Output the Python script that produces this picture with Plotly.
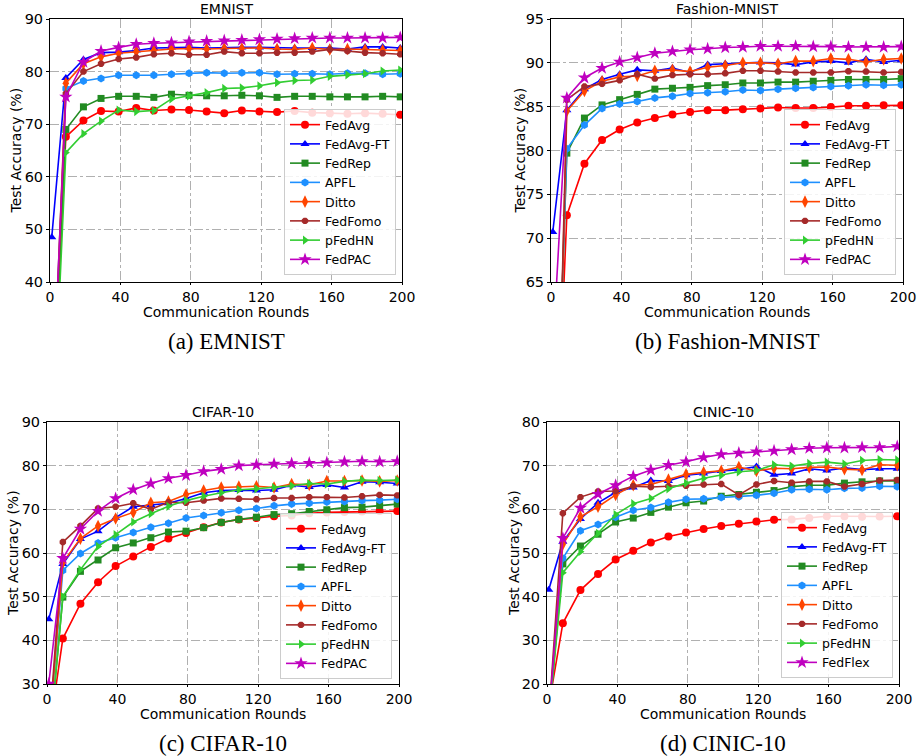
import plotly.graph_objects as go

rounds = [1, 9, 19, 29, 39, 49, 59, 69, 79, 89, 99, 109, 119, 129, 139, 149, 159, 169, 179, 189, 199]
x_ticks = [0, 40, 80, 120, 160, 200]

methods = ["FedAvg", "FedAvg-FT", "FedRep", "APFL", "Ditto", "FedFomo", "pFedHN", "FedPAC"]
methods_cinic = ["FedAvg", "FedAvg-FT", "FedRep", "APFL", "Ditto", "FedFomo", "pFedHN", "FedFlex"]

# ---------------- EMNIST ----------------
emnist_fedavg = [10, 67.6, 70.7, 72.5, 72.4, 73.1, 72.6, 72.8, 72.7, 72.4, 72.1, 72.6, 72.4, 72.3, 72.5, 72.2, 72.1, 72.0, 72.1, 72.0, 71.8]
emnist_fedavgft = [48.5, 78.8, 82.3, 83.6, 83.7, 84.0, 84.5, 84.6, 84.6, 84.5, 84.6, 84.6, 84.6, 84.5, 84.5, 84.5, 84.5, 84.3, 84.7, 84.7, 84.5]
emnist_fedrep = [10, 69.0, 73.3, 74.9, 75.3, 75.3, 75.1, 75.7, 75.5, 75.4, 75.4, 75.5, 75.4, 75.1, 75.3, 75.3, 75.2, 75.2, 75.2, 75.3, 75.2]
emnist_apfl = [12, 76.8, 78.2, 78.7, 79.3, 79.3, 79.3, 79.5, 79.7, 79.8, 79.7, 79.8, 79.8, 79.5, 79.6, 79.6, 79.5, 79.7, 79.7, 79.5, 79.6]
emnist_ditto = [11, 77.8, 81.5, 82.8, 83.5, 83.8, 84.0, 84.3, 84.4, 84.3, 84.4, 84.4, 84.5, 84.3, 84.2, 84.5, 84.2, 84.3, 84.2, 84.1, 84.0]
emnist_fedfomo = [10, 75.8, 80.0, 81.5, 82.4, 82.7, 83.3, 83.5, 83.2, 83.2, 83.8, 83.5, 83.5, 83.6, 83.6, 83.8, 84.2, 83.9, 83.6, 83.5, 83.3]
emnist_pfedhn = [5, 64.6, 68.2, 70.6, 72.7, 72.4, 72.6, 74.8, 75.4, 76.0, 76.8, 76.9, 77.3, 77.9, 78.3, 78.4, 79.1, 79.4, 79.6, 80.1, 80.3]
emnist_fedpac = [14, 75.2, 81.8, 83.9, 84.6, 85.2, 85.4, 85.5, 85.7, 85.8, 85.9, 86.0, 86.1, 86.2, 86.3, 86.4, 86.4, 86.4, 86.4, 86.4, 86.5]

# ---------------- Fashion-MNIST ----------------
fm_fedavg = [35, 72.6, 78.5, 81.2, 82.4, 83.2, 83.7, 84.1, 84.4, 84.6, 84.6, 84.7, 84.8, 84.9, 84.85, 84.85, 84.95, 85.1, 85.1, 85.15, 85.15]
fm_fedavgft = [70.7, 84.6, 87.0, 88.1, 88.7, 89.2, 89.1, 89.4, 88.9, 89.8, 89.9, 90.0, 90.05, 90.0, 89.8, 90.1, 90.2, 90.0, 90.4, 90.1, 90.3]
fm_fedrep = [32, 79.7, 83.7, 85.2, 85.8, 86.4, 87.0, 87.1, 87.2, 87.4, 87.5, 87.7, 87.7, 87.8, 87.8, 87.9, 88.0, 88.1, 88.1, 88.1, 88.2]
fm_apfl = [32, 80.2, 82.9, 84.8, 85.3, 85.6, 86.0, 86.2, 86.5, 86.6, 86.7, 86.9, 86.85, 87.0, 87.1, 87.2, 87.3, 87.4, 87.5, 87.45, 87.5]
fm_ditto = [22, 84.5, 86.8, 87.9, 88.4, 88.5, 89.1, 89.2, 89.0, 89.5, 89.7, 90.0, 90.0, 89.9, 90.2, 90.2, 90.5, 90.4, 90.1, 90.4, 90.5]
fm_fedfomo = [22, 85.8, 87.3, 87.6, 88.0, 88.7, 88.2, 88.6, 88.7, 88.7, 88.8, 89.1, 89.1, 89.0, 88.9, 88.9, 88.9, 89.05, 89.0, 88.9, 88.95]
fm_pfedhn = [None]  # no visible curve in the reference panel (legend entry only)
fm_fedpac = [57, 86.0, 88.3, 89.4, 90.1, 90.6, 91.1, 91.3, 91.5, 91.6, 91.75, 91.8, 91.9, 91.9, 91.9, 91.85, 91.85, 91.8, 91.8, 91.8, 91.85]

# ---------------- CIFAR-10 ----------------
c10_fedavg = [18, 40.4, 48.4, 53.3, 57.0, 59.2, 61.4, 63.3, 64.6, 65.9, 67.0, 67.7, 68.0, 68.4, 68.6, 69.1, 69.3, 69.4, 69.5, 69.6, 69.6]
c10_fedavgft = [44.8, 57.5, 63.2, 65.0, 68.1, 70.6, 71.0, 71.4, 72.5, 73.8, 74.3, 74.4, 74.3, 74.5, 75.5, 75.1, 75.6, 75.0, 76.3, 76.2, 75.9]
c10_fedrep = [15, 49.9, 55.8, 58.4, 61.2, 62.3, 63.5, 64.8, 65.0, 65.8, 67.0, 67.7, 68.2, 68.8, 69.0, 69.5, 69.9, 70.4, 70.5, 70.9, 71.2]
c10_apfl = [18, 56.0, 59.9, 62.3, 63.5, 64.7, 65.9, 66.8, 68.0, 68.6, 69.2, 69.8, 70.2, 70.8, 71.2, 71.4, 71.7, 71.8, 72.0, 72.1, 72.3]
c10_ditto = [18, 57.8, 63.3, 66.2, 67.9, 69.3, 71.5, 71.8, 73.4, 74.3, 75.0, 75.2, 75.3, 75.0, 75.8, 75.6, 76.5, 76.5, 76.6, 76.4, 76.6]
c10_fedfomo = [18, 62.5, 66.2, 70.2, 70.6, 71.4, 70.0, 71.6, 71.5, 72.0, 72.5, 72.4, 72.3, 72.6, 72.6, 72.8, 72.8, 72.7, 73.0, 73.3, 73.2]
c10_pfedhn = [15, 50.0, 56.2, 61.5, 64.2, 67.1, 69.0, 70.7, 72.0, 73.0, 73.8, 74.5, 74.7, 75.0, 75.4, 75.9, 75.8, 76.4, 76.7, 76.6, 76.7]
c10_fedpac = [30.0, 58.8, 65.5, 69.6, 72.5, 74.5, 75.9, 77.1, 77.8, 78.7, 79.2, 80.0, 80.2, 80.4, 80.5, 80.6, 80.7, 80.9, 81.0, 80.9, 81.0]

# ---------------- CINIC-10 ----------------
cn_fedavg = [15, 33.9, 41.5, 45.2, 48.5, 50.5, 52.4, 53.8, 54.7, 55.5, 56.2, 56.7, 57.2, 57.6, 57.7, 58.0, 58.4, 58.4, 58.3, 58.35, 58.4]
cn_fedavgft = [41.6, 52.6, 57.8, 61.5, 63.9, 65.0, 66.6, 66.5, 67.8, 68.2, 68.8, 69.1, 69.8, 67.9, 68.2, 69.3, 68.9, 69.5, 69.1, 69.3, 69.3]
cn_fedrep = [12, 47.5, 51.6, 54.3, 57.1, 58.0, 59.3, 60.5, 61.5, 61.9, 63.0, 63.4, 63.9, 64.3, 65.2, 65.5, 65.5, 66.0, 66.3, 66.5, 66.5]
cn_apfl = [12, 48.8, 55.1, 56.5, 58.2, 59.8, 60.4, 61.6, 62.3, 62.4, 62.7, 62.9, 63.2, 63.7, 64.5, 64.6, 64.5, 64.8, 64.9, 65.3, 65.2]
cn_ditto = [12, 52.0, 58.3, 60.6, 63.3, 65.5, 65.7, 66.8, 68.0, 68.5, 68.8, 69.7, 68.8, 69.4, 69.3, 69.6, 69.7, 69.2, 69.0, 70.2, 70.1]
cn_fedfomo = [12, 59.1, 62.8, 64.1, 64.2, 65.3, 65.1, 65.3, 65.4, 65.7, 65.8, 63.3, 65.7, 66.5, 66.1, 66.4, 66.4, 65.2, 65.8, 66.6, 66.7]
cn_pfedhn = [12, 45.5, 50.3, 54.5, 58.8, 61.3, 62.5, 64.7, 66.0, 67.1, 67.8, 68.6, 68.9, 70.2, 69.9, 70.5, 70.8, 70.4, 71.2, 71.4, 71.3]
cn_fedflex = [12, 53.4, 60.3, 63.5, 65.5, 67.6, 69.0, 70.1, 70.9, 71.9, 72.6, 72.9, 73.2, 73.4, 73.7, 74.0, 74.1, 74.1, 74.2, 74.2, 74.4]

panels = [
    dict(title="EMNIST", caption="(a) EMNIST", names=methods,
         series=[emnist_fedavg, emnist_fedavgft, emnist_fedrep, emnist_apfl, emnist_ditto, emnist_fedfomo, emnist_pfedhn, emnist_fedpac],
         yrange=[40, 90], ytick=10),
    dict(title="Fashion-MNIST", caption="(b) Fashion-MNIST", names=methods,
         series=[fm_fedavg, fm_fedavgft, fm_fedrep, fm_apfl, fm_ditto, fm_fedfomo, fm_pfedhn, fm_fedpac],
         yrange=[65, 95], ytick=5),
    dict(title="CIFAR-10", caption="(c) CIFAR-10", names=methods,
         series=[c10_fedavg, c10_fedavgft, c10_fedrep, c10_apfl, c10_ditto, c10_fedfomo, c10_pfedhn, c10_fedpac],
         yrange=[30, 90], ytick=10),
    dict(title="CINIC-10", caption="(d) CINIC-10", names=methods_cinic,
         series=[cn_fedavg, cn_fedavgft, cn_fedrep, cn_apfl, cn_ditto, cn_fedfomo, cn_pfedhn, cn_fedflex],
         yrange=[20, 80], ytick=10),
]

colors = ["#ff0000", "#0000ff", "#228b22", "#1e90ff", "#ff4500", "#a52a2a", "#32cd32", "#bf00bf"]
symbols = ["circle", "triangle-up", "square", "hexagon", "diamond-tall", "octagon", "triangle-right", "star"]
msizes = [8, 8, 7, 8, 9, 7, 8, 10]

W, H = 917, 756
# plot-area pixel boxes: (left, right, top, bottom)
boxes = [(50, 402, 19, 282), (551, 903, 19, 282), (47, 399, 422, 684), (547, 899, 422, 684)]
legend_pos = [(396, 275), (896, 275), (392, 679), (893, 678)]
ylab_x = [15, 519, 13, 514]

FONT = "DejaVu Sans, Verdana, sans-serif"
fig = go.Figure()
annotations = []
layout = dict(width=W, height=H, margin=dict(l=0, r=0, t=0, b=0, autoexpand=False),
              paper_bgcolor="white", plot_bgcolor="white", font=dict(family=FONT, color="black"))

for i, p in enumerate(panels):
    k = "" if i == 0 else str(i + 1)
    l, r, t, b = boxes[i]
    xd = [l / W, r / W]
    yd = [1 - b / H, 1 - t / H]
    leg = "legend" + k
    for j, name in enumerate(p["names"]):
        ys = p["series"][j]
        xs = rounds[:len(ys)]
        fig.add_trace(go.Scatter(
            x=xs, y=ys, name=name, mode="lines+markers",
            line=dict(color=colors[j], width=1.6),
            marker=dict(symbol=symbols[j], size=msizes[j], color=colors[j],
                        line=dict(width=0, color=colors[j])),
            xaxis="x" + k, yaxis="y" + k, legend=leg, showlegend=True,
        ))
    axcommon = dict(showline=True, mirror=True, linecolor="black", linewidth=1,
                    ticks="outside", ticklen=3, tickcolor="black", automargin=False,
                    ticklabeloverflow="allow",
                    showgrid=True, gridcolor="#b0b0b0", griddash="dashdot", gridwidth=1,
                    zeroline=False, tickfont=dict(size=14.5, family=FONT, color="black"))
    layout["xaxis" + k] = dict(domain=xd, range=[0, 200], tickvals=x_ticks,
                               anchor="y" + k, **{**axcommon, "ticklen": 2,
                                                  "tickfont": dict(size=14, family=FONT, color="black")})
    y0, y1 = p["yrange"]
    layout["yaxis" + k] = dict(domain=yd, range=[y0, y1],
                               tickvals=list(range(y0, y1 + 1, p["ytick"])),
                               anchor="x" + k, **axcommon)
    lx, ly = legend_pos[i]
    layout[leg] = dict(x=lx / W, y=1 - ly / H, xanchor="right", yanchor="bottom",
                       xref="paper", yref="paper",
                       bgcolor="rgba(255,255,255,0.85)", bordercolor="#cccccc", borderwidth=1,
                       font=dict(size=12.5, family=FONT, color="black"),
                       tracegroupgap=0, itemwidth=30)
    cx = (l + r) / 2 / W
    annotations.append(dict(text=p["title"], x=cx, y=1 - (t - 10) / H, xref="paper", yref="paper",
                            showarrow=False, font=dict(size=14, family=FONT),
                            xanchor="center", yanchor="middle"))
    annotations.append(dict(text="Communication Rounds", x=cx, y=1 - (b + 30) / H, xref="paper", yref="paper",
                            showarrow=False, font=dict(size=14, family=FONT),
                            xanchor="center", yanchor="middle"))
    annotations.append(dict(text=p["caption"], x=cx, y=1 - (b + 59) / H, xref="paper", yref="paper",
                            showarrow=False, font=dict(size=23, family="Liberation Serif, Times New Roman, serif"),
                            xanchor="center", yanchor="middle"))
    annotations.append(dict(text="Test Accuracy (%)", x=ylab_x[i] / W, y=1 - (t + b) / 2 / H,
                            xref="paper", yref="paper", showarrow=False, textangle=-90,
                            font=dict(size=14, family=FONT), xanchor="center", yanchor="middle"))

layout["annotations"] = annotations
fig.update_layout(**layout)
fig.write_html("out.html", config={"displayModeBar": False},
               post_script="document.body.style.margin='0';document.body.style.padding='0';")
